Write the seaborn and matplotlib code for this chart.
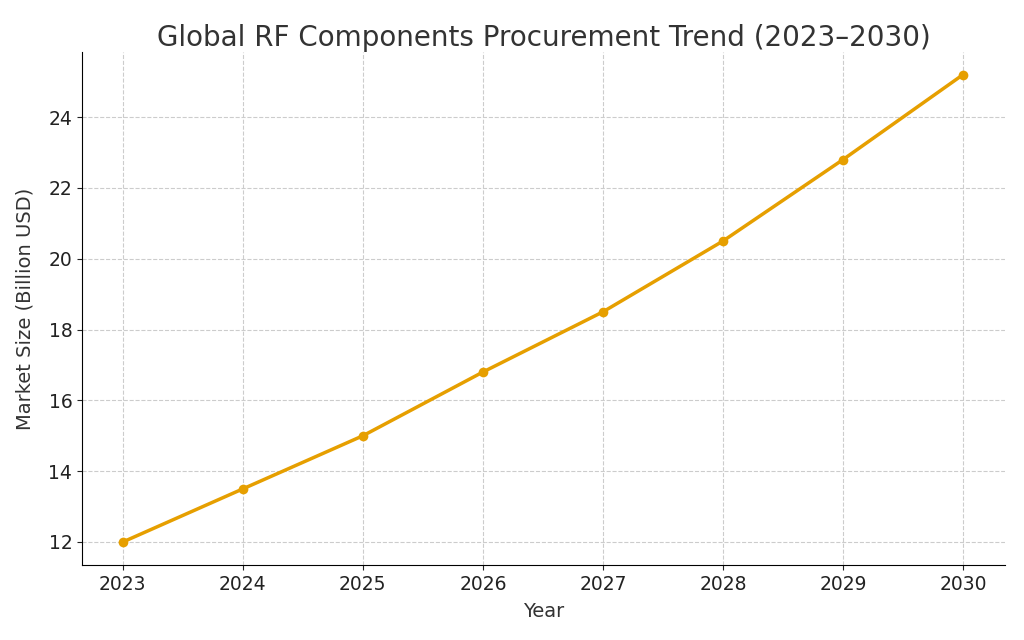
import matplotlib
matplotlib.use("Agg")
import matplotlib.pyplot as plt
import seaborn as sns
import pandas as pd

years = [2023, 2024, 2025, 2026, 2027, 2028, 2029, 2030]
market_size = [12.0, 13.5, 15.0, 16.8, 18.5, 20.5, 22.8, 25.2]
df = pd.DataFrame({"Year": years, "Market": market_size})

fig = plt.figure(figsize=(10.24, 6.4), dpi=100)
ax = fig.add_axes([82/1024, 1-565/640, (1005-82)/1024, (565-52)/640])
sns.lineplot(data=df, x="Year", y="Market", ax=ax, color="#E69F00",
             linewidth=2.5, marker="o", markersize=7, markeredgewidth=0)
ax.set_xlim(2022.66, 2030.35)
ax.set_ylim(11.35, 25.84)
ax.set_xticks(years)
ax.set_yticks([12, 14, 16, 18, 20, 22, 24])
ax.tick_params(labelsize=13.5, colors="#222222")
ax.grid(True, linestyle="--", color="#cccccc", linewidth=0.8)
for s in ["top", "right"]:
    ax.spines[s].set_visible(False)
ax.set_xlabel("Year", fontsize=14, color="#333333", labelpad=6)
ax.set_ylabel("Market Size (Billion USD)", fontsize=14, color="#333333", labelpad=10)
ax.set_title("Global RF Components Procurement Trend (2023\u20132030)",
             fontsize=20, color="#333333", pad=4)
fig.savefig("out.png", dpi=100)
